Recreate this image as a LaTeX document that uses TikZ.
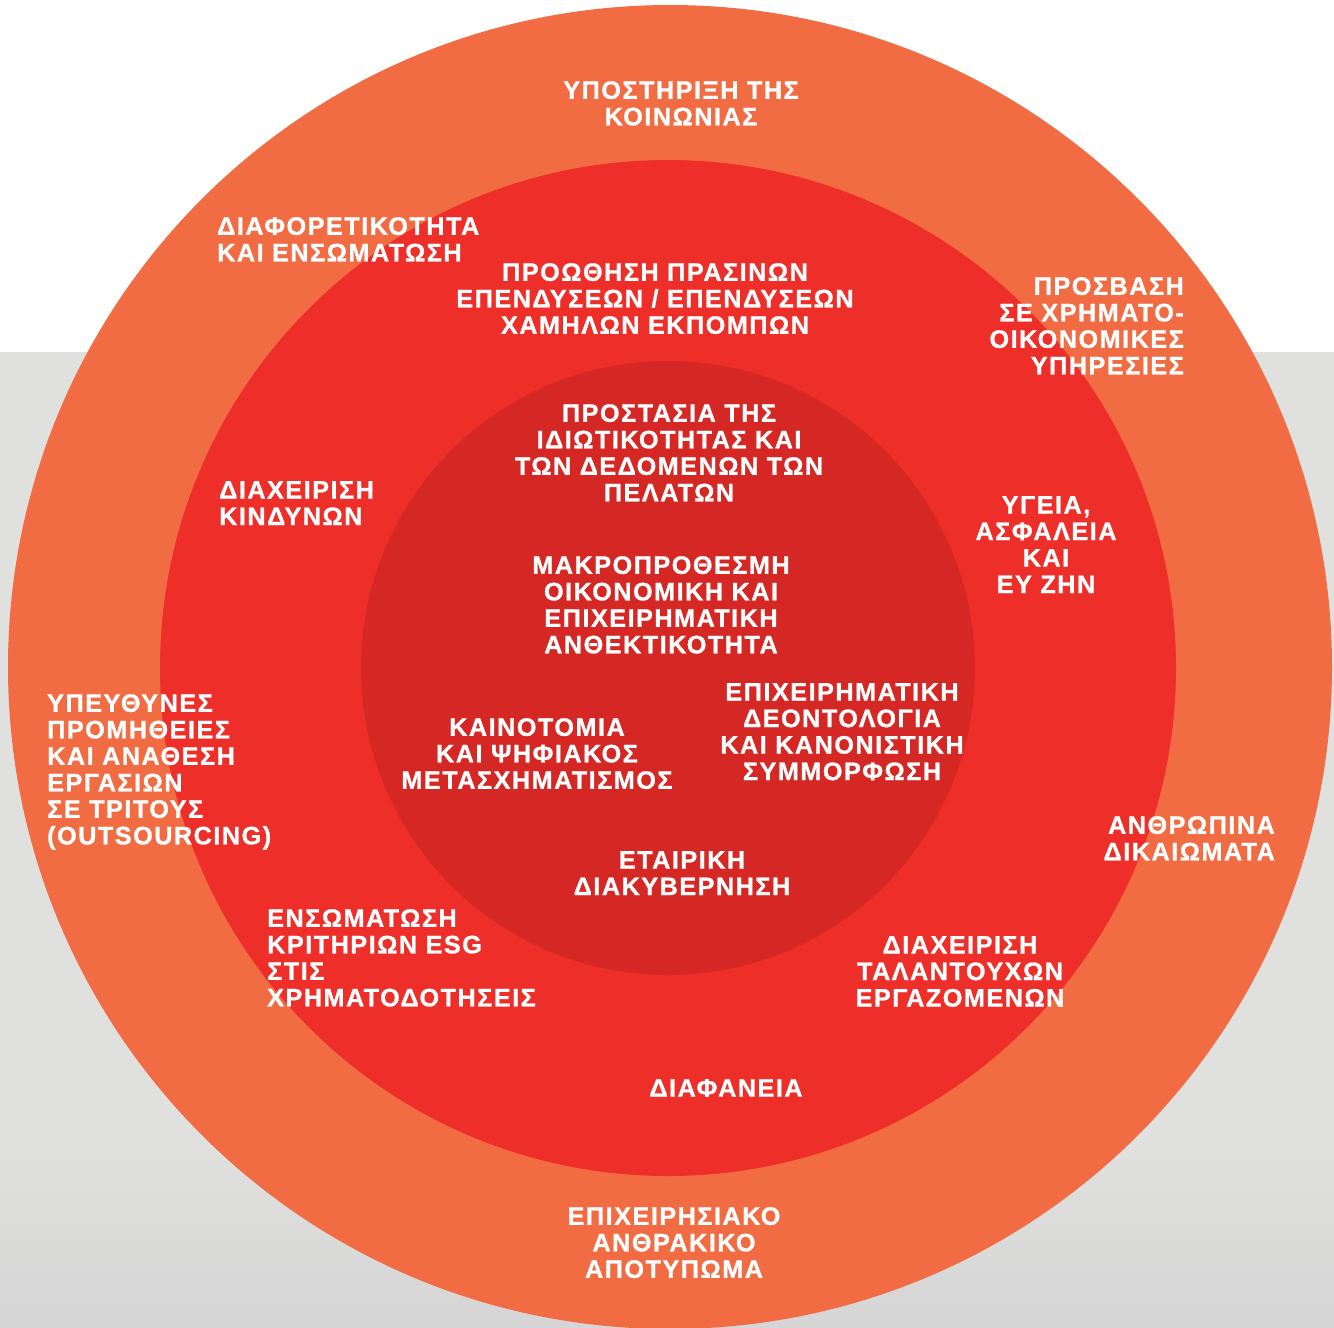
\documentclass[tikz,border=0pt]{standalone}
\usepackage{fontspec}
\setmainfont{Liberation Sans}
\newfontfamily\labfont[LetterSpace=6, FakeBold=1]{Liberation Sans Bold}
\definecolor{outerc}{HTML}{F26C43}
\definecolor{midc}{HTML}{EE2E29}
\definecolor{innerc}{HTML}{D52724}
\definecolor{bggray}{HTML}{E0E0DF}
\definecolor{bgbot}{HTML}{D5D5D5}
\begin{document}
\begin{tikzpicture}[x=1pt,y=-1pt,
  ring/.style={circle, inner sep=0pt, draw=none},
  lab/.style={text=white, font=\labfont\fontsize{25.2}{26.5}\selectfont, inner sep=0pt},
  labc/.style={lab, align=center, anchor=north},
  labl/.style={lab, align=left, anchor=north west},
  labr/.style={lab, align=right, anchor=north east}]
\useasboundingbox (0,0) rectangle (1334,1328);
% background
\fill[white] (0,0) rectangle (1334,352);
\fill[bggray] (0,352) rectangle (1334,1150);
\shade[top color=bggray, bottom color=bgbot] (0,1150) rectangle (1334,1328);
% rings
\node[ring, fill=outerc, minimum size=1324pt] (outer) at (670,667) {};
\node[ring, fill=midc, minimum size=1016pt] (middle) at (668,668) {};
\node[ring, fill=innerc, minimum size=614pt] (inner) at (668,668) {};
% outer ring labels
\node[labc] (soc) at (681,81) {ΥΠΟΣΤΗΡΙΞΗ ΤΗΣ\\ΚΟΙΝΩΝΙΑΣ};
\node[labl] (div) at (217,217) {ΔΙΑΦΟΡΕΤΙΚΟΤΗΤΑ\\ΚΑΙ ΕΝΣΩΜΑΤΩΣΗ};
\node[labr] (access) at (1184,277) {ΠΡΟΣΒΑΣΗ\\ΣΕ ΧΡΗΜΑΤΟ-\\ΟΙΚΟΝΟΜΙΚΕΣ\\ΥΠΗΡΕΣΙΕΣ};
\node[labl] (supply) at (47,694) {ΥΠΕΥΘΥΝΕΣ\\ΠΡΟΜΗΘΕΙΕΣ\\ΚΑΙ ΑΝΑΘΕΣΗ\\ΕΡΓΑΣΙΩΝ\\ΣΕ ΤΡΙΤΟΥΣ\\(OUTSOURCING)};
\node[labr] (rights) at (1275,816) {ΑΝΘΡΩΠΙΝΑ\\ΔΙΚΑΙΩΜΑΤΑ};
\node[labc] (carbon) at (674,1207) {ΕΠΙΧΕΙΡΗΣΙΑΚΟ\\ΑΝΘΡΑΚΙΚΟ\\ΑΠΟΤΥΠΩΜΑ};
% middle ring labels
\node[labc] (green) at (655,263) {ΠΡΟΩΘΗΣΗ ΠΡΑΣΙΝΩΝ\\ΕΠΕΝΔΥΣΕΩΝ / ΕΠΕΝΔΥΣΕΩΝ\\ΧΑΜΗΛΩΝ ΕΚΠΟΜΠΩΝ};
\node[labl] (risk) at (219,481) {ΔΙΑΧΕΙΡΙΣΗ\\ΚΙΝΔΥΝΩΝ};
\node[labc] (health) at (1046,496) {ΥΓΕΙΑ,\\ΑΣΦΑΛΕΙΑ\\ΚΑΙ\\ΕΥ ΖΗΝ};
\node[labl] (esg) at (267,909) {ΕΝΣΩΜΑΤΩΣΗ\\ΚΡΙΤΗΡΙΩΝ ESG\\ΣΤΙΣ\\ΧΡΗΜΑΤΟΔΟΤΗΣΕΙΣ};
\node[labc] (talent) at (960,936) {ΔΙΑΧΕΙΡΙΣΗ\\ΤΑΛΑΝΤΟΥΧΩΝ\\ΕΡΓΑΖΟΜΕΝΩΝ};
\node[labc] (transp) at (726,1079) {ΔΙΑΦΑΝΕΙΑ};
% inner circle labels
\node[labc] (privacy) at (669,404) {ΠΡΟΣΤΑΣΙΑ ΤΗΣ\\ΙΔΙΩΤΙΚΟΤΗΤΑΣ ΚΑΙ\\ΤΩΝ ΔΕΔΟΜΕΝΩΝ ΤΩΝ\\ΠΕΛΑΤΩΝ};
\node[labc] (resil) at (661,556) {ΜΑΚΡΟΠΡΟΘΕΣΜΗ\\ΟΙΚΟΝΟΜΙΚΗ ΚΑΙ\\ΕΠΙΧΕΙΡΗΜΑΤΙΚΗ\\ΑΝΘΕΚΤΙΚΟΤΗΤΑ};
\node[labc] (ethics) at (842,683) {ΕΠΙΧΕΙΡΗΜΑΤΙΚΗ\\ΔΕΟΝΤΟΛΟΓΙΑ\\ΚΑΙ ΚΑΝΟΝΙΣΤΙΚΗ\\ΣΥΜΜΟΡΦΩΣΗ};
\node[labc] (innov) at (537,718) {ΚΑΙΝΟΤΟΜΙΑ\\ΚΑΙ ΨΗΦΙΑΚΟΣ\\ΜΕΤΑΣΧΗΜΑΤΙΣΜΟΣ};
\node[labc] (gov) at (682,851) {ΕΤΑΙΡΙΚΗ\\ΔΙΑΚΥΒΕΡΝΗΣΗ};
\end{tikzpicture}
\end{document}
